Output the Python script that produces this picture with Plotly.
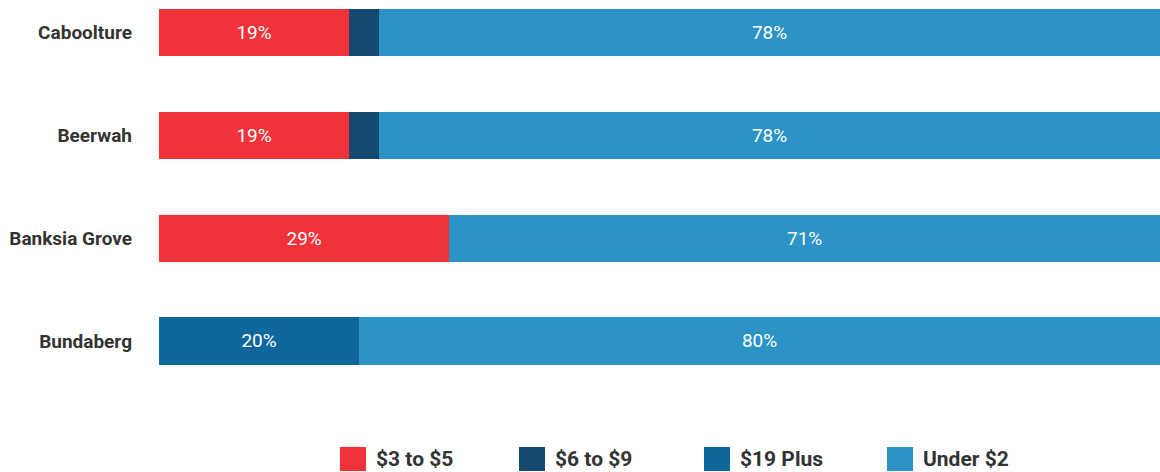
import plotly.graph_objects as go

# Share of customers by price band at each site (%)
categories = ["Caboolture", "Beerwah", "Banksia Grove", "Bundaberg"]
band_names = ["$3 to $5", "$6 to $9", "$19 Plus", "Under $2"]
band_3_to_5 = [19, 19, 29, 0]
band_6_to_9 = [3, 3, 0, 0]
band_19_plus = [0, 0, 0, 20]
band_under_2 = [78, 78, 71, 80]

colors = ["#F0323A", "#15496F", "#10679C", "#2B93C5"]
series = [band_3_to_5, band_6_to_9, band_19_plus, band_under_2]

FONT = "Roboto"

fig = go.Figure()
for name, vals, col in zip(band_names, series, colors):
    labels = [f"{v}%" if v >= 5 else "" for v in vals]
    fig.add_trace(go.Bar(
        y=categories, x=vals, name=name, orientation="h",
        marker=dict(color=col, line=dict(width=0)),
        text=labels, textposition="inside", insidetextanchor="middle",
        textfont=dict(family=FONT, size=19, color="white"),
        hoverinfo="skip", showlegend=False,
    ))

# Legend drawn as swatches and labels below the plot
legend_x = [340, 519, 704, 887]
W, H = 1160, 472
ML, MB = 159, 72
PW = W - ML
PH = H - MB
for name, col, px in zip(band_names, colors, legend_x):
    x0 = (px - ML) / PW
    x1 = (px + 26 - ML) / PW
    fig.add_shape(type="rect", xref="paper", yref="paper",
                  x0=x0, x1=x1, y0=-(447 - PH) / PH, y1=-(471 - PH) / PH,
                  fillcolor=col, line=dict(width=0))
    fig.add_annotation(xref="paper", yref="paper", x=(px + 34 - ML) / PW,
                       y=-(459 - PH) / PH, text=name, showarrow=False,
                       xanchor="left", yanchor="middle",
                       font=dict(family=FONT, size=21, color="#333333",
                                 weight="bold"))

fig.update_layout(
    width=W, height=H,
    margin=dict(l=ML, r=0, t=0, b=MB),
    barmode="stack", bargap=0.54,
    plot_bgcolor="white", paper_bgcolor="white",
    xaxis=dict(range=[0, 100], visible=False, fixedrange=True),
    yaxis=dict(range=[3.574, -0.316], showgrid=False, zeroline=False,
               showline=False, ticks="", ticklabelstandoff=26,
               tickfont=dict(family=FONT, size=19, color="#333333", weight="bold")),
    uniformtext=dict(minsize=8, mode="show"),
)

fig.write_html("out.html")
